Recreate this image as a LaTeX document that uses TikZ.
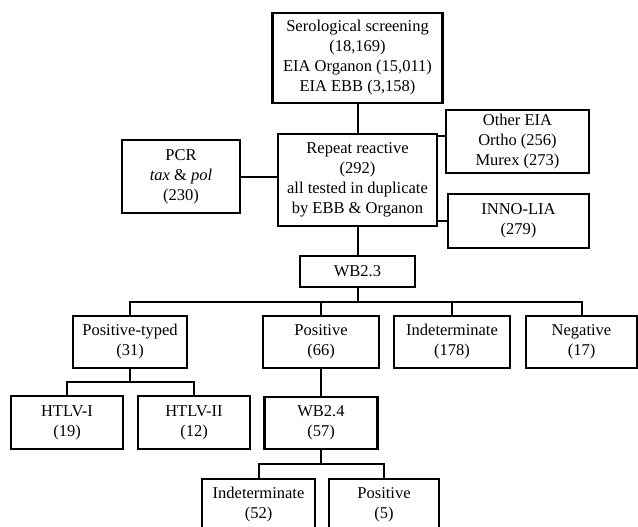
\documentclass[tikz,border=0pt]{standalone}
\usepackage{fontspec}
\setmainfont{Liberation Serif}
\begin{document}
\begin{tikzpicture}[x=1pt,y=-1pt,
  bx/.style={draw=black,line width=2.2pt,inner sep=0pt,align=center,
    font=\fontsize{16.5}{20}\selectfont},
  ln/.style={draw=black,line width=2pt}]
\useasboundingbox (0,0) rectangle (638,527);
\node[bx,minimum width=170,minimum height=90] (sero) at (357.5,58) {Serological screening\\(18,169)\\EIA Organon (15,011)\\EIA EBB (3,158)};
\node[bx,minimum width=143,minimum height=63] (other) at (517.5,141.5) {Other EIA\\Ortho (256)\\Murex (273)};
\node[bx,minimum width=118,minimum height=73] (pcr) at (181,176.5) {PCR\\\textit{tax} \& \textit{pol}\\(230)};
\node[bx,minimum width=159,minimum height=92] (rep) at (357.5,180) {Repeat reactive\\(292)\\all tested in duplicate\\by EBB \& Organon};
\node[bx,minimum width=141,minimum height=54] (inno) at (518.5,221) {INNO-LIA\\(279)};
\node[bx,minimum width=115,minimum height=31] (wb23) at (357.5,271.5) {WB2.3};
\node[bx,minimum width=114,minimum height=52] (pt) at (130,342) {Positive-typed\\(31)};
\node[bx,minimum width=116,minimum height=52] (pos) at (321,342) {Positive\\(66)};
\node[bx,minimum width=116,minimum height=52] (ind) at (452,342) {Indeterminate\\(178)};
\node[bx,minimum width=111,minimum height=52] (neg) at (581.5,342) {Negative\\(17)};
\node[bx,minimum width=112,minimum height=53] (h1) at (67,422.5) {HTLV-I\\(19)};
\node[bx,minimum width=112,minimum height=53] (h2) at (194,422.5) {HTLV-II\\(12)};
\node[bx,minimum width=113,minimum height=52] (wb24) at (321,423) {WB2.4\\(57)};
\node[bx,minimum width=113,minimum height=52] (ind2) at (258.5,505) {Indeterminate\\(52)};
\node[bx,minimum width=110,minimum height=52] (pos2) at (384,505) {Positive\\(5)};
\coordinate (b1) at (357.5,302);
\coordinate (b2) at (130,382);
\coordinate (b3) at (321,464);
\coordinate (ot) at (0,136);
% connectors
\draw[ln] (sero.south) -- (rep.north);
\draw[ln] (pcr.east) -- (pcr.east -| rep.west);
\draw[ln] (rep.east |- ot) -- (other.west |- ot);
\draw[ln] (inno.west) -- (inno.west -| rep.east);
\draw[ln] (rep.south) -- (wb23.north);
\draw[ln] (wb23.south) -- (b1);
\draw[ln] (pt.north) -- (pt.north |- b1) -- (neg.north |- b1) -- (neg.north);
\draw[ln] (pos.north) -- (pos.north |- b1);
\draw[ln] (ind.north) -- (ind.north |- b1);
\draw[ln] (pt.south) -- (b2);
\draw[ln] (h1.north) -- (h1.north |- b2) -- (h2.north |- b2) -- (h2.north);
\draw[ln] (pos.south) -- (wb24.north);
\draw[ln] (wb24.south) -- (b3);
\draw[ln] (ind2.north) -- (ind2.north |- b3) -- (pos2.north |- b3) -- (pos2.north);
\end{tikzpicture}
\end{document}
